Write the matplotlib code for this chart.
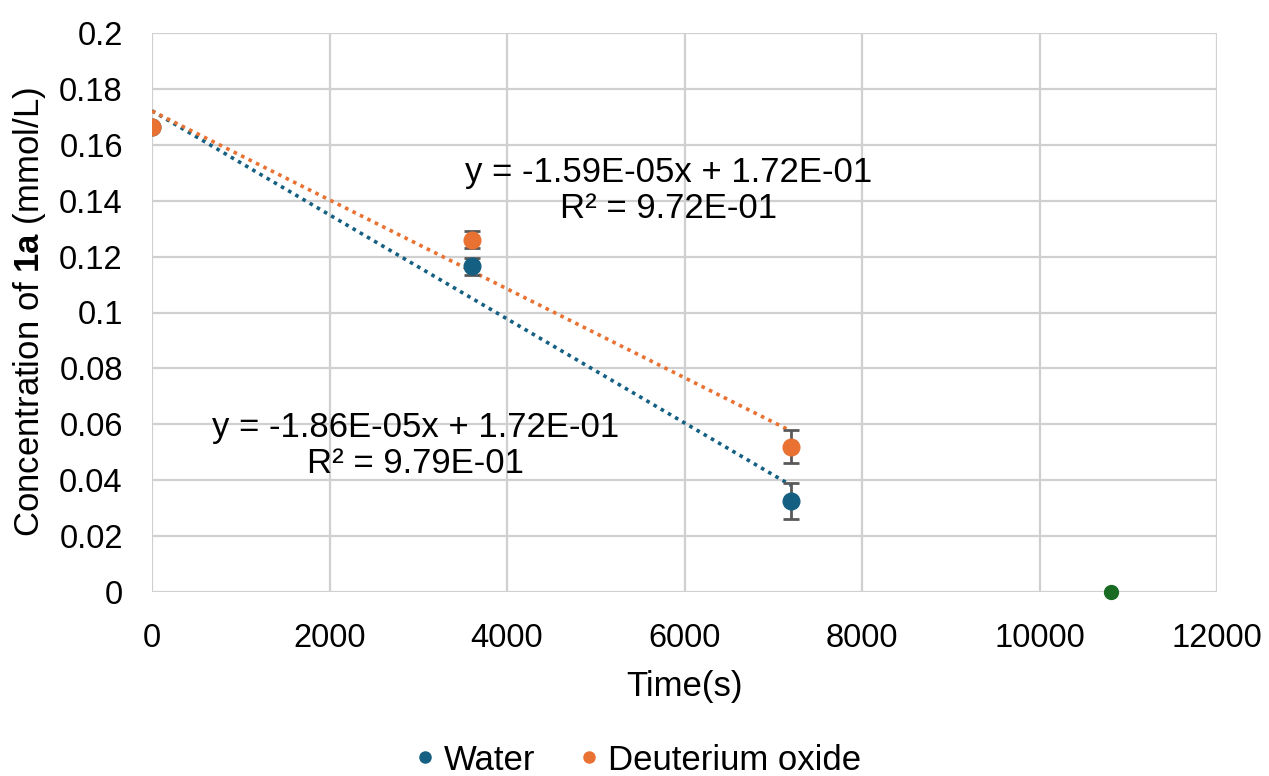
import numpy as np
import matplotlib.pyplot as plt
from matplotlib.lines import Line2D

plt.rcParams['font.family'] = ['Liberation Sans', 'DejaVu Sans']
plt.rcParams['mathtext.fontset'] = 'custom'
plt.rcParams['mathtext.rm'] = 'Liberation Sans'
plt.rcParams['mathtext.bf'] = 'Liberation Sans:bold'

time_s = [0, 3600, 7200]
water = [0.1665, 0.1165, 0.0325]
water_err = [0.0, 0.003, 0.0065]
d2o = [0.1665, 0.126, 0.052]
d2o_err = [0.0, 0.003, 0.006]
extra_x = [10800]
extra_y = [0.0]

c_water = '#156082'
c_d2o = '#E97132'
c_extra = '#196B24'

fig = plt.figure(figsize=(12.69, 7.76), dpi=100)
ax = fig.add_axes([152 / 1269, 1 - 592 / 776, (1217 - 152) / 1269, (592 - 33) / 776])

ax.set_xlim(0, 12000)
ax.set_ylim(0, 0.2)
ax.set_xticks(np.arange(0, 12001, 2000))
ax.set_yticks(np.arange(0, 0.2001, 0.02))
ax.set_yticklabels(['0', '0.02', '0.04', '0.06', '0.08', '0.1', '0.12', '0.14', '0.16', '0.18', '0.2'])
ax.grid(True, color='#d0d0d0', linewidth=1.6)
ax.set_axisbelow(True)
for s in ax.spines.values():
    s.set_visible(False)
ax.tick_params(length=0, labelsize=23.5)
ax.tick_params(axis='y', pad=21)
ax.tick_params(axis='x', pad=22)

# trend lines
xs = np.array([0, 7200])
for y, col in [(water, c_water), (d2o, c_d2o)]:
    m, b = np.polyfit(time_s, y, 1)
    ax.plot(xs, m * xs + b, linestyle=(0, (1, 1.3)), color=col, linewidth=2.6, zorder=2)

ax.errorbar(time_s, water, yerr=water_err, fmt='o', color=c_water, markersize=12,
            ecolor='#595959', elinewidth=2, capsize=6, capthick=2, zorder=3)
ax.errorbar(time_s, d2o, yerr=d2o_err, fmt='o', color=c_d2o, markersize=12,
            ecolor='#595959', elinewidth=2, capsize=6, capthick=2, zorder=4)
ax.plot(extra_x, extra_y, 'o', color=c_extra, markersize=10, clip_on=False, zorder=5)

ax.text(5820, 0.1437, 'y = -1.59E-05x + 1.72E-01\nR² = 9.72E-01', ha='center', va='center',
        fontsize=25, linespacing=1.1)
ax.text(2970, 0.0525, 'y = -1.86E-05x + 1.72E-01\nR² = 9.79E-01', ha='center', va='center',
        fontsize=25, linespacing=1.1)

ax.set_xlabel('Time(s)', fontsize=25, labelpad=12)
ax.set_ylabel('Concentration of $\\mathbf{1a}$ (mmol/L)', fontsize=25, labelpad=8)

handles = [Line2D([], [], marker='o', linestyle='', color=c_water, markersize=8),
           Line2D([], [], marker='o', linestyle='', color=c_d2o, markersize=8)]
fig.legend(handles, ['Water', 'Deuterium oxide'], loc='center', bbox_to_anchor=(0.493, 1 - 760 / 776),
           ncol=2, frameon=False, fontsize=25, handletextpad=-0.45, columnspacing=0.55)

fig.savefig('out.png', dpi=100)
